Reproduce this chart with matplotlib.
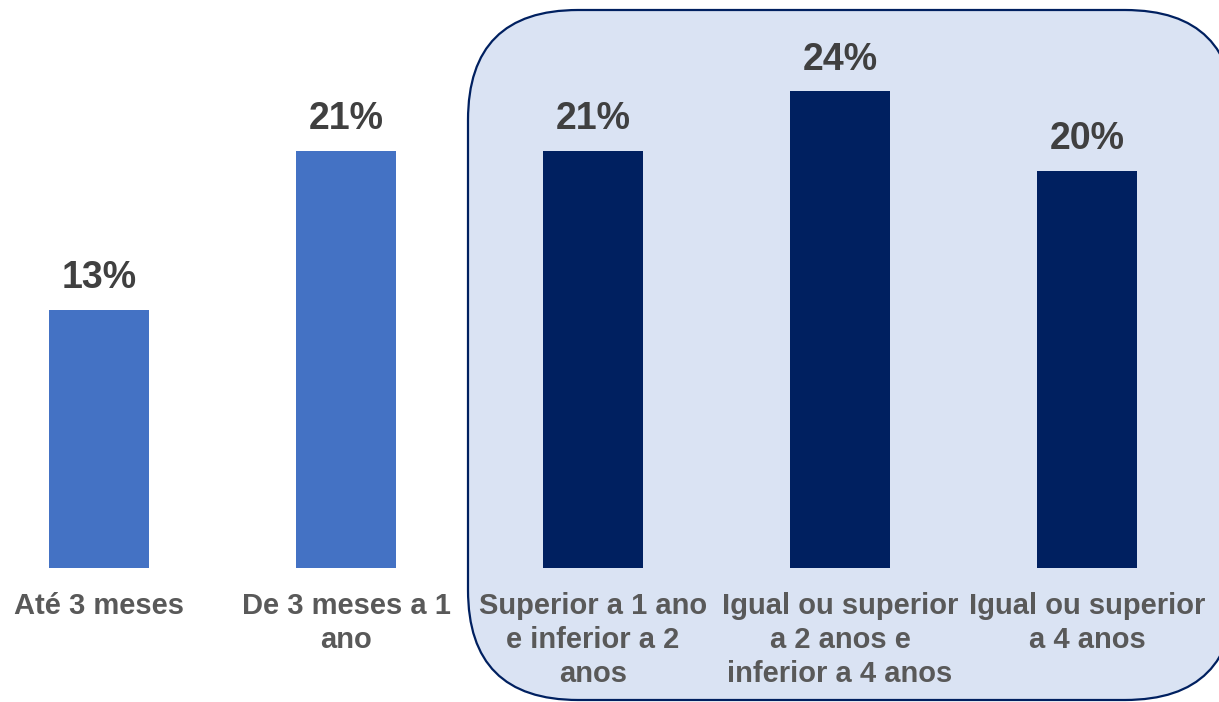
import matplotlib.pyplot as plt
from matplotlib.patches import FancyBboxPatch

plt.rcParams['font.family'] = ['Liberation Sans', 'DejaVu Sans']

categories = [
    'Até 3 meses',
    'De 3 meses a 1\nano',
    'Superior a 1 ano\ne inferior a 2\nanos',
    'Igual ou superior\na 2 anos e\ninferior a 4 anos',
    'Igual ou superior\na 4 anos',
]
values = [13, 21, 21, 24, 20]
bar_colors = ['#4472C4', '#4472C4', '#002060', '#002060', '#002060']

fig = plt.figure(figsize=(12.19, 7.02), dpi=100)
ax = fig.add_axes([0, 0, 1, 1])
ax.set_xlim(-0.401, 4.534)
ax.set_ylim(-6.75, 28.6)
ax.axis('off')

# highlight box behind the last three groups (inches, so the corners stay round)
box = FancyBboxPatch((4.68, 0.02), 7.67, 6.90,
                     boxstyle='round,pad=0,rounding_size=1.1',
                     transform=fig.dpi_scale_trans,
                     facecolor='#DAE3F3', edgecolor='#002060', linewidth=1.6,
                     zorder=0, clip_on=False)
ax.add_patch(box)

x = list(range(len(values)))
ax.bar(x, values, width=0.405, color=bar_colors, zorder=2)

for xi, v in zip(x, values):
    ax.text(xi, v + 1.1, f'{v}%', ha='center', va='baseline',
            fontsize=27, fontweight='bold', color='#404040', zorder=3)

for xi, lab in zip(x, categories):
    ax.text(xi, -1.2, lab, ha='center', va='top', linespacing=1.27,
            fontsize=21, fontweight='bold', color='#595959', zorder=3)

fig.savefig('out.png', dpi=100)
